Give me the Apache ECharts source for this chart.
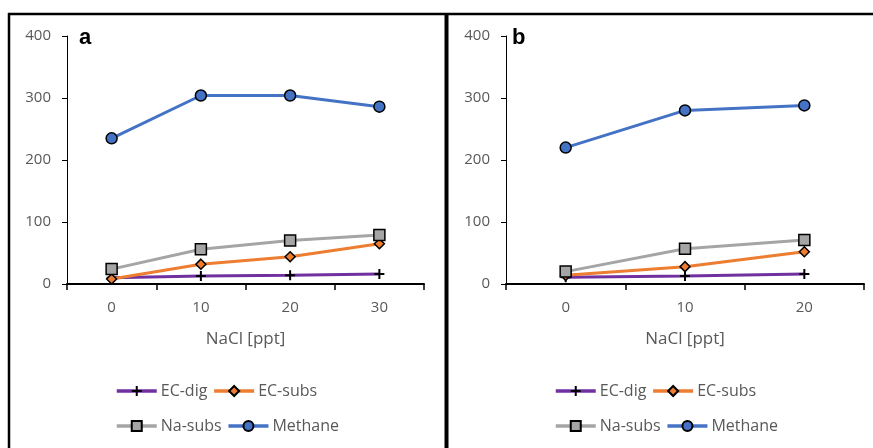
<!DOCTYPE html>
<html>
<head>
<meta charset="utf-8">
<script src="https://cdn.jsdelivr.net/npm/echarts@6/dist/echarts.min.js"></script>
<style>
  html, body { margin: 0; padding: 0; background: #fff; }
  #chart { width: 873px; height: 448px; }
</style>
</head>
<body>
<div id="chart"></div>
<script>
// NaCl levels for each panel
const nacl_a = ['0', '10', '20', '30'];
const nacl_b = ['0', '10', '20'];

// Panel a
const ecDig_a   = [10, 13, 14, 16];
const ecSubs_a  = [8, 32, 44, 65];
const naSubs_a  = [24, 56, 70, 79];
const methane_a = [235, 304, 304, 286];

// Panel b
const ecDig_b   = [11, 13, 16];
const ecSubs_b  = [14, 28, 52];
const naSubs_b  = [20, 57, 71];
const methane_b = [220, 280, 288];

const yTicks = { min: 0, max: 400, interval: 100 };
const seriesNames = ['EC-dig', 'EC-subs', 'Na-subs', 'Methane'];

const FONT = 'Open Sans';
const GREY_TEXT = '#595959';
const PLUS = 'path://M4,0 H6 V4 H10 V6 H6 V10 H4 V6 H0 V4 H4 Z';

const styles = {
  'EC-dig':  { line: '#7030A0', symbol: PLUS, size: 10, fill: '#000', border: 0 },
  'EC-subs': { line: '#ED7D31', symbol: 'diamond', size: 10, fill: '#ED7D31', border: 1.5 },
  'Na-subs': { line: '#A5A5A5', symbol: 'rect', size: 11, fill: '#A5A5A5', border: 1.5 },
  'Methane': { line: '#4472C4', symbol: 'circle', size: 11, fill: '#4472C4', border: 1.5 }
};

function makeSeries(name, data, idx) {
  const s = styles[name];
  return {
    name: name,
    type: 'line',
    xAxisIndex: idx,
    yAxisIndex: idx,
    data: data,
    symbol: s.symbol,
    symbolSize: s.size,
    showAllSymbol: true,
    lineStyle: { color: s.line, width: 3 },
    itemStyle: { color: s.fill, borderColor: '#000', borderWidth: s.border },
    emphasis: { disabled: true },
    z: 2 + seriesNames.indexOf(name)
  };
}

function xAxis(idx, cats) {
  return {
    type: 'category',
    gridIndex: idx,
    data: cats,
    boundaryGap: true,
    name: 'NaCl [ppt]',
    nameLocation: 'middle',
    nameGap: 47,
    nameTextStyle: { color: GREY_TEXT, fontSize: 17, fontFamily: FONT },
    axisLine: { lineStyle: { color: '#000', width: 2 } },
    axisTick: { show: true, inside: false, length: 6, alignWithLabel: false, lineStyle: { color: '#000', width: 1.5 } },
    axisLabel: { color: GREY_TEXT, fontSize: 15, fontFamily: FONT, margin: 16 },
    splitLine: { show: false }
  };
}

function yAxis(idx) {
  return {
    type: 'value',
    gridIndex: idx,
    min: yTicks.min,
    max: yTicks.max,
    interval: yTicks.interval,
    axisLine: { show: true, lineStyle: { color: '#000', width: 1 } },
    axisTick: { show: true, inside: false, length: 5, lineStyle: { color: '#000', width: 1 } },
    axisLabel: { color: GREY_TEXT, fontSize: 15, fontFamily: FONT, margin: 16 },
    splitLine: { show: false }
  };
}

function legendRow(left, top, names) {
  return {
    left: left,
    top: top,
    padding: 0,
    orient: 'horizontal',
    itemWidth: 40,
    itemHeight: 12.5,
    itemGap: 5,
    data: names,
    selectedMode: false,
    lineStyle: { width: 3.5 },
    textStyle: { color: GREY_TEXT, fontSize: 16, fontFamily: FONT, width: 66, padding: [0, 0, 0, -1] }
  };
}

const option = {
  animation: false,
  backgroundColor: '#fff',
  grid: [
    { left: 67, top: 36, width: 357, height: 248 },
    { left: 506, top: 36, width: 358, height: 248 }
  ],
  xAxis: [xAxis(0, nacl_a), xAxis(1, nacl_b)],
  yAxis: [yAxis(0), yAxis(1)],
  legend: [
    legendRow(115, 383, ['EC-dig', 'EC-subs']),
    legendRow(115, 418, ['Na-subs', 'Methane']),
    legendRow(554, 383, ['EC-dig', 'EC-subs']),
    legendRow(554, 418, ['Na-subs', 'Methane'])
  ],
  series: [
    makeSeries('EC-dig', ecDig_a, 0),
    makeSeries('EC-subs', ecSubs_a, 0),
    makeSeries('Na-subs', naSubs_a, 0),
    makeSeries('Methane', methane_a, 0),
    makeSeries('EC-dig', ecDig_b, 1),
    makeSeries('EC-subs', ecSubs_b, 1),
    makeSeries('Na-subs', naSubs_b, 1),
    makeSeries('Methane', methane_b, 1)
  ],
  graphic: [
    // panel frames
    { type: 'line', shape: { x1: 8, y1: 14, x2: 873, y2: 14 }, style: { stroke: '#000', lineWidth: 2.5 }, z: 10 },
    { type: 'line', shape: { x1: 9, y1: 13, x2: 9, y2: 448 }, style: { stroke: '#000', lineWidth: 2.5 }, z: 10 },
    { type: 'line', shape: { x1: 446.5, y1: 13, x2: 446.5, y2: 448 }, style: { stroke: '#000', lineWidth: 4 }, z: 10 },
    // panel letters
    { type: 'text', left: 79, top: 27, style: { text: 'a', font: 'bold 22px "Liberation Sans", Arial', fill: '#000' }, z: 10 },
    { type: 'text', left: 512, top: 27, style: { text: 'b', font: 'bold 22px "Liberation Sans", Arial', fill: '#000' }, z: 10 }
  ]
};

const chart = echarts.init(document.getElementById('chart'), null, { renderer: 'canvas' });
chart.setOption(option);
</script>
</body>
</html>
